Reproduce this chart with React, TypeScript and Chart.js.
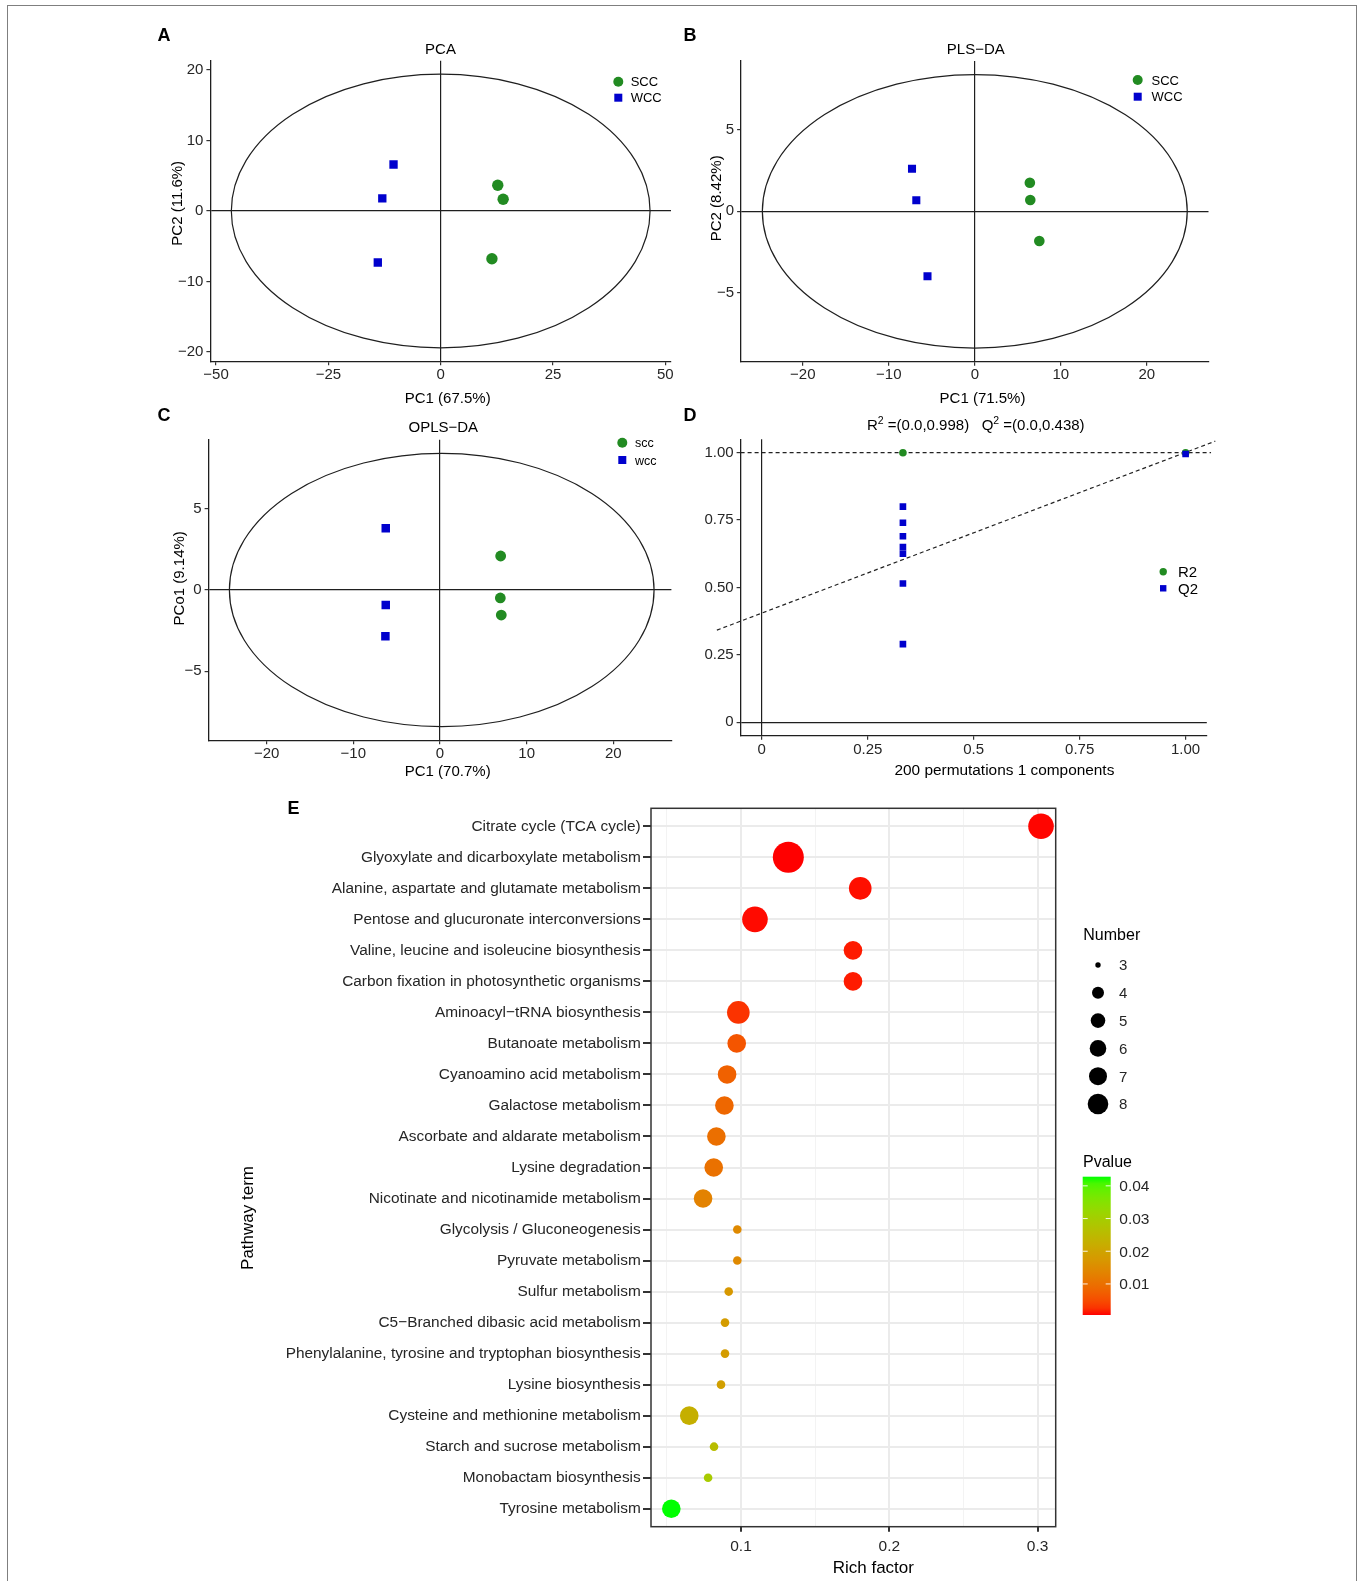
import React, { useEffect, useRef } from 'react';
import { Chart, registerables } from 'chart.js';

Chart.register(...registerables);

// ---------- shared look ----------
const FONT = '"Liberation Sans", Arial, Helvetica, sans-serif';
const INK = '#000000';
const TICK_INK = '#262626';
const AXIS_INK = '#1f1f1f';
const SCC_GREEN = '#228B22';
const WCC_BLUE = '#0000CD';

// ---------- A: PCA scores ----------
const PCA_SCC_X = [12.7, 13.9, 11.4];
const PCA_SCC_Y = [3.65, 1.66, -6.77];
const PCA_WCC_X = [-10.5, -13.0, -14.0];
const PCA_WCC_Y = [6.6, 1.8, -7.3];
const PCA_ELLIPSE = [0, 0, 46.6, 19.4]; // centre x, centre y, semi-axis x, semi-axis y
const PCA_X_TICKS = [-50, -25, 0, 25, 50];
const PCA_Y_TICKS = [-20, -10, 0, 10, 20];

// ---------- B: PLS-DA scores ----------
const PLSDA_SCC_X = [6.4, 6.45, 7.5];
const PLSDA_SCC_Y = [1.76, 0.7, -1.83];
const PLSDA_WCC_X = [-7.3, -6.8, -5.5];
const PLSDA_WCC_Y = [2.62, 0.68, -4.0];
const PLSDA_ELLIPSE = [0, 0, 24.7, 8.42];
const PLSDA_X_TICKS = [-20, -10, 0, 10, 20];
const PLSDA_Y_TICKS = [-5, 0, 5];

// ---------- C: OPLS-DA scores ----------
const OPLSDA_SCC_X = [7.0, 6.96, 7.07];
const OPLSDA_SCC_Y = [2.09, -0.49, -1.54];
const OPLSDA_WCC_X = [-6.26, -6.26, -6.3];
const OPLSDA_WCC_Y = [3.79, -0.92, -2.85];
const OPLSDA_ELLIPSE = [0.2, 0, 24.5, 8.4];
const OPLSDA_X_TICKS = [-20, -10, 0, 10, 20];
const OPLSDA_Y_TICKS = [-5, 0, 5];

// ---------- D: permutation test ----------
const PERM_R2_X = [1.0, 0.333];
const PERM_R2_Y = [1.0, 1.0];
const PERM_Q2_X = [0.333, 0.333, 0.333, 0.333, 0.333, 0.333, 0.333, 1.0];
const PERM_Q2_Y = [0.8, 0.74, 0.69, 0.65, 0.625, 0.515, 0.29, 0.995];
const R2_FIT = [1.0, 0.0]; // intercept, slope
const Q2_FIT = [0.405, 0.596];
const R2_FIT_SPAN = [-0.05, 1.06];
const Q2_FIT_SPAN = [-0.106, 1.07];
const PERM_X_TICKS = [0, 0.25, 0.5, 0.75, 1];
const PERM_X_LABELS = ['0', '0.25', '0.5', '0.75', '1.00'];
const PERM_Y_TICKS = [0, 0.25, 0.5, 0.75, 1];
const PERM_Y_LABELS = ['0', '0.25', '0.50', '0.75', '1.00'];

// ---------- E: KEGG enrichment ----------
const PATHWAYS = [
  'Citrate cycle (TCA cycle)',
  'Glyoxylate and dicarboxylate metabolism',
  'Alanine, aspartate and glutamate metabolism',
  'Pentose and glucuronate interconversions',
  'Valine, leucine and isoleucine biosynthesis',
  'Carbon fixation in photosynthetic organisms',
  'Aminoacyl\u2212tRNA biosynthesis',
  'Butanoate metabolism',
  'Cyanoamino acid metabolism',
  'Galactose metabolism',
  'Ascorbate and aldarate metabolism',
  'Lysine degradation',
  'Nicotinate and nicotinamide metabolism',
  'Glycolysis / Gluconeogenesis',
  'Pyruvate metabolism',
  'Sulfur metabolism',
  'C5\u2212Branched dibasic acid metabolism',
  'Phenylalanine, tyrosine and tryptophan biosynthesis',
  'Lysine biosynthesis',
  'Cysteine and methionine metabolism',
  'Starch and sucrose metabolism',
  'Monobactam biosynthesis',
  'Tyrosine metabolism',
];
const RICH_FACTOR = [
  0.3023, 0.1319, 0.1804, 0.1094, 0.1755, 0.1755, 0.0982, 0.0971, 0.0906, 0.0888, 0.0834, 0.0816,
  0.0744, 0.0975, 0.0975, 0.0917, 0.0892, 0.0892, 0.0865, 0.0651, 0.0818, 0.0778, 0.053,
];
const HIT_NUMBER = [6, 8, 5, 6, 4, 4, 5, 4, 4, 4, 4, 4, 4, 3, 3, 3, 3, 3, 3, 4, 3, 3, 4];
const P_VALUE = [
  0.0006, 0.0005, 0.0008, 0.0007, 0.0012, 0.0012, 0.0026, 0.006, 0.0077, 0.0085, 0.0098, 0.0102,
  0.0132, 0.0145, 0.0145, 0.0174, 0.0183, 0.0183, 0.0191, 0.0225, 0.0259, 0.0293, 0.0428,
];
const RICH_MAJOR_TICKS = [0.1, 0.2, 0.3];
const RICH_MINOR_TICKS = [0.05, 0.15, 0.25];
const NUMBER_BREAKS = [3, 4, 5, 6, 7, 8];
const PVALUE_BREAKS = [0.01, 0.02, 0.03, 0.04];
const PVALUE_LIMITS = [0.0005, 0.0428];

// marker sizes for the Number scale (plot and key)
const NUMBER_RADIUS = [4.3, 9.3, 11.3, 12.8, 14.2, 15.5];
const NUMBER_KEY_RADIUS = [2.7, 6.0, 7.3, 8.3, 9.0, 10.3];
const radiusFor = (n: number) => NUMBER_RADIUS[NUMBER_BREAKS.indexOf(n)];

// ---------- red -> green gradient interpolated in CIE Lab ----------
const WHITE = [0.95047, 1, 1.08883];
const toLinear = (c: number) => {
  const v = c / 255;
  return v <= 0.04045 ? v / 12.92 : Math.pow((v + 0.055) / 1.055, 2.4);
};
const fromLinear = (v: number) => {
  const s = v <= 0.0031308 ? 12.92 * v : 1.055 * Math.pow(Math.max(v, 0), 1 / 2.4) - 0.055;
  return Math.round(Math.min(1, Math.max(0, s)) * 255);
};
function rgbToLab(rgb: number[]) {
  const [r, g, b] = rgb.map(toLinear);
  const X = (0.4124 * r + 0.3576 * g + 0.1805 * b) / WHITE[0];
  const Y = (0.2126 * r + 0.7152 * g + 0.0722 * b) / WHITE[1];
  const Z = (0.0193 * r + 0.1192 * g + 0.9505 * b) / WHITE[2];
  const f = (t: number) => (t > 0.008856 ? Math.cbrt(t) : 7.787 * t + 16 / 116);
  const fx = f(X), fy = f(Y), fz = f(Z);
  return [116 * fy - 16, 500 * (fx - fy), 200 * (fy - fz)];
}
function labToRgb(lab: number[]) {
  const [L, a, b] = lab;
  const fy = (L + 16) / 116, fx = fy + a / 500, fz = fy - b / 200;
  const inv = (t: number) => (t * t * t > 0.008856 ? t * t * t : (t - 16 / 116) / 7.787);
  const X = inv(fx) * WHITE[0], Y = inv(fy) * WHITE[1], Z = inv(fz) * WHITE[2];
  return [
    fromLinear(3.2406 * X - 1.5372 * Y - 0.4986 * Z),
    fromLinear(-0.9689 * X + 1.8758 * Y + 0.0415 * Z),
    fromLinear(0.0557 * X - 0.204 * Y + 1.057 * Z),
  ];
}
const LAB_LOW = rgbToLab([255, 0, 0]);
const LAB_HIGH = rgbToLab([0, 255, 0]);
function colorAt(t: number) {
  const u = Math.min(1, Math.max(0, t));
  const [r, g, b] = labToRgb(LAB_LOW.map((v, i) => v + (LAB_HIGH[i] - v) * u));
  return `rgb(${r},${g},${b})`;
}
const pFraction = (p: number) => (p - PVALUE_LIMITS[0]) / (PVALUE_LIMITS[1] - PVALUE_LIMITS[0]);
const pColor = (p: number) => colorAt(pFraction(p));

// ---------- geometry helpers ----------
type Box = { left: number; top: number; width: number; height: number };
type Area = { left: number; top: number; right: number; bottom: number };

function frame(box: Box, area: Area) {
  return {
    padding: { left: 0, top: area.top - box.top, right: box.left + box.width - area.right, bottom: 0 },
    yWidth: area.left - box.left,
    xHeight: box.top + box.height - area.bottom,
  };
}

const signed = (v: number) => (v < 0 ? '\u2212' + Math.abs(v) : String(v));
const zip = (xs: number[], ys: number[]) => xs.map((x, i) => ({ x, y: ys[i] }));

function put(ctx: CanvasRenderingContext2D, s: string, x: number, y: number, o: any = {}) {
  ctx.save();
  ctx.font = `${o.bold ? 'bold ' : ''}${o.size ?? 15}px ${FONT}`;
  ctx.fillStyle = o.color ?? INK;
  ctx.textAlign = o.align ?? 'left';
  ctx.textBaseline = 'alphabetic';
  ctx.translate(x, y);
  if (o.rotate) ctx.rotate(-Math.PI / 2);
  ctx.fillText(s, 0, 0);
  ctx.restore();
}
function dot(ctx: CanvasRenderingContext2D, x: number, y: number, r: number, color: string) {
  ctx.beginPath();
  ctx.arc(x, y, r, 0, Math.PI * 2);
  ctx.fillStyle = color;
  ctx.fill();
}
function square(ctx: CanvasRenderingContext2D, x: number, y: number, side: number, color: string) {
  ctx.fillStyle = color;
  ctx.fillRect(x - side / 2, y - side / 2, side, side);
}

function overlayPlugin(box: Box, draw: (ctx: CanvasRenderingContext2D) => void) {
  return {
    id: 'panelText',
    afterDraw(chart: any) {
      const ctx = chart.ctx;
      ctx.save();
      ctx.translate(-box.left, -box.top);
      draw(ctx);
      ctx.restore();
    },
  };
}

function ellipsePlugin(e: number[]) {
  return {
    id: 'confidenceEllipse',
    beforeDatasetsDraw(chart: any) {
      const { ctx } = chart;
      const { x, y } = chart.scales;
      const cx = x.getPixelForValue(e[0]);
      const cy = y.getPixelForValue(e[1]);
      const rx = Math.abs(x.getPixelForValue(e[0] + e[2]) - cx);
      const ry = Math.abs(y.getPixelForValue(e[1] + e[3]) - cy);
      ctx.save();
      ctx.beginPath();
      ctx.ellipse(cx, cy, rx, ry, 0, 0, Math.PI * 2);
      ctx.strokeStyle = AXIS_INK;
      ctx.lineWidth = 1.2;
      ctx.stroke();
      ctx.restore();
    },
  };
}

// theme_classic-like axis: axis line, tick marks, and a reference line at zero
function classicAxis(min: number, max: number, ticks: number[], labels: string[], fit: (s: any) => void, pad: number) {
  return {
    type: 'linear',
    min,
    max,
    afterBuildTicks: (s: any) => {
      s.ticks = ticks.map((v) => ({ value: v }));
    },
    afterFit: fit,
    grid: {
      drawOnChartArea: true,
      color: (c: any) => (c.tick && c.tick.value === 0 ? AXIS_INK : 'rgba(0,0,0,0)'),
      lineWidth: 1.2,
      tickColor: '#333333',
      tickLength: 4,
      tickWidth: 1.2,
    },
    border: { display: true, color: AXIS_INK, width: 1.3 },
    ticks: {
      color: TICK_INK,
      font: { family: FONT, size: 15 },
      padding: pad,
      autoSkip: false,
      maxRotation: 0,
      minRotation: 0,
      callback: (v: number) => {
        const i = ticks.indexOf(v);
        return i >= 0 ? labels[i] : '';
      },
    },
  };
}

function baseOptions(padding: any) {
  return {
    responsive: false,
    animation: false,
    events: [],
    devicePixelRatio: 1,
    layout: { autoPadding: false, padding },
    plugins: { legend: { display: false }, tooltip: { enabled: false }, title: { display: false } },
  };
}

// ---------- score panels A, B, C ----------
type ScorePanel = {
  box: Box;
  area: Area;
  xRange: number[];
  yRange: number[];
  xTicks: number[];
  yTicks: number[];
  sccX: number[];
  sccY: number[];
  wccX: number[];
  wccY: number[];
  ellipse: number[];
  dotR: number;
  rectR: number;
  xPad: number;
  decorate: (ctx: CanvasRenderingContext2D) => void;
};

function scoreConfig(p: ScorePanel) {
  const f = frame(p.box, p.area);
  return {
    type: 'scatter',
    data: {
      datasets: [
        {
          label: 'SCC',
          data: zip(p.sccX, p.sccY),
          pointStyle: 'circle',
          pointRadius: p.dotR,
          backgroundColor: SCC_GREEN,
          borderWidth: 0,
        },
        {
          label: 'WCC',
          data: zip(p.wccX, p.wccY),
          pointStyle: 'rect',
          pointRadius: p.rectR,
          backgroundColor: WCC_BLUE,
          borderWidth: 0,
        },
      ],
    },
    options: {
      ...baseOptions(f.padding),
      scales: {
        x: classicAxis(p.xRange[0], p.xRange[1], p.xTicks, p.xTicks.map(signed), (s: any) => { s.height = f.xHeight; }, p.xPad),
        y: classicAxis(p.yRange[0], p.yRange[1], p.yTicks, p.yTicks.map(signed), (s: any) => { s.width = f.yWidth; }, 3),
      },
    },
    plugins: [ellipsePlugin(p.ellipse), overlayPlugin(p.box, p.decorate)],
  };
}

function groupKey(ctx: CanvasRenderingContext2D, x: number, y1: number, y2: number, tx: number, size: number, names: string[], dotR: number, side: number) {
  dot(ctx, x, y1, dotR, SCC_GREEN);
  square(ctx, x, y2, side, WCC_BLUE);
  put(ctx, names[0], tx, y1 + size * 0.36, { size });
  put(ctx, names[1], tx, y2 + size * 0.36, { size });
}

const PANEL_A: ScorePanel = {
  box: { left: 140, top: 20, width: 540, height: 390 },
  area: { left: 210.4, top: 60.8, right: 671, bottom: 361.2 },
  xRange: [-51.26, 51.26],
  yRange: [-21.3, 21.3],
  xTicks: PCA_X_TICKS,
  yTicks: PCA_Y_TICKS,
  sccX: PCA_SCC_X,
  sccY: PCA_SCC_Y,
  wccX: PCA_WCC_X,
  wccY: PCA_WCC_Y,
  ellipse: PCA_ELLIPSE,
  dotR: 5.7,
  rectR: 5.9,
  xPad: 0.5,
  decorate: (ctx) => {
    put(ctx, 'A', 157.5, 40.5, { size: 18, bold: true });
    put(ctx, 'PCA', 440.5, 54, { align: 'center' });
    put(ctx, 'PC1 (67.5%)', 447.7, 403.3, { align: 'center' });
    put(ctx, 'PC2 (11.6%)', 182.3, 203.3, { align: 'center', rotate: true });
    groupKey(ctx, 618.3, 81.7, 97.7, 630.7, 13, ['SCC', 'WCC'], 5, 8);
  },
};

const PANEL_B: ScorePanel = {
  box: { left: 670, top: 20, width: 550, height: 390 },
  area: { left: 741.1, top: 60.9, right: 1208.5, bottom: 361.7 },
  xRange: [-27.17, 27.17],
  yRange: [-9.26, 9.26],
  xTicks: PLSDA_X_TICKS,
  yTicks: PLSDA_Y_TICKS,
  sccX: PLSDA_SCC_X,
  sccY: PLSDA_SCC_Y,
  wccX: PLSDA_WCC_X,
  wccY: PLSDA_WCC_Y,
  ellipse: PLSDA_ELLIPSE,
  dotR: 5.3,
  rectR: 5.7,
  xPad: 0.5,
  decorate: (ctx) => {
    put(ctx, 'B', 683.5, 40.5, { size: 18, bold: true });
    put(ctx, 'PLS\u2212DA', 975.8, 54, { align: 'center' });
    put(ctx, 'PC1 (71.5%)', 982.5, 403.3, { align: 'center' });
    put(ctx, 'PC2 (8.42%)', 721, 198.3, { align: 'center', rotate: true });
    groupKey(ctx, 1137.7, 80, 96.7, 1151.5, 13, ['SCC', 'WCC'], 5, 8);
  },
};

const PANEL_C: ScorePanel = {
  box: { left: 140, top: 400, width: 540, height: 385 },
  area: { left: 208.6, top: 439.7, right: 671.4, bottom: 740.3 },
  xRange: [-26.7, 26.7],
  yRange: [-9.24, 9.24],
  xTicks: OPLSDA_X_TICKS,
  yTicks: OPLSDA_Y_TICKS,
  sccX: OPLSDA_SCC_X,
  sccY: OPLSDA_SCC_Y,
  wccX: OPLSDA_WCC_X,
  wccY: OPLSDA_WCC_Y,
  ellipse: OPLSDA_ELLIPSE,
  dotR: 5.4,
  rectR: 6.0,
  xPad: 1,
  decorate: (ctx) => {
    put(ctx, 'C', 157.5, 420.5, { size: 18, bold: true });
    put(ctx, 'OPLS\u2212DA', 443.3, 432.3, { align: 'center' });
    put(ctx, 'PC1 (70.7%)', 447.7, 776, { align: 'center' });
    put(ctx, 'PCo1 (9.14%)', 184, 578.3, { align: 'center', rotate: true });
    groupKey(ctx, 622.3, 442.7, 460, 635, 12.5, ['scc', 'wcc'], 5, 8);
  },
};

// ---------- panel D ----------
const D_BOX: Box = { left: 670, top: 400, width: 550, height: 385 };
const D_AREA: Area = { left: 740.6, top: 439.2, right: 1206.8, bottom: 735.8 };

function fitLine(fit: number[], span: number[]) {
  return span.map((x) => ({ x, y: fit[0] + fit[1] * x }));
}

function permTitle(ctx: CanvasRenderingContext2D, cx: number, baseline: number) {
  const big = `15px ${FONT}`;
  const small = `10.5px ${FONT}`;
  const parts: [string, string, number][] = [
    ['R', big, 0],
    ['2', small, -6],
    [' =(0.0,0.998)   Q', big, 0],
    ['2', small, -6],
    [' =(0.0,0.438)', big, 0],
  ];
  ctx.save();
  ctx.textBaseline = 'alphabetic';
  ctx.textAlign = 'left';
  ctx.fillStyle = INK;
  let total = 0;
  for (const [s, f] of parts) {
    ctx.font = f;
    total += ctx.measureText(s).width;
  }
  let x = cx - total / 2;
  for (const [s, f, dy] of parts) {
    ctx.font = f;
    ctx.fillText(s, x, baseline + dy);
    x += ctx.measureText(s).width;
  }
  ctx.restore();
}

function permConfig() {
  const f = frame(D_BOX, D_AREA);
  const dashed = {
    showLine: true,
    pointRadius: 0,
    borderColor: '#222222',
    borderWidth: 1.2,
    borderDash: [4, 3],
    fill: false,
    clip: false,
    order: 2,
  };
  return {
    type: 'scatter',
    data: {
      datasets: [
        {
          label: 'Q2',
          data: zip(PERM_Q2_X, PERM_Q2_Y),
          pointStyle: 'rect',
          pointRadius: 4.7,
          backgroundColor: WCC_BLUE,
          borderWidth: 0,
          order: 1,
        },
        {
          label: 'R2',
          data: zip(PERM_R2_X, PERM_R2_Y),
          pointStyle: 'circle',
          pointRadius: 3.8,
          backgroundColor: SCC_GREEN,
          borderWidth: 0,
          order: 1,
        },
        { label: 'R2 fit', data: fitLine(R2_FIT, R2_FIT_SPAN), ...dashed },
        { label: 'Q2 fit', data: fitLine(Q2_FIT, Q2_FIT_SPAN), ...dashed },
      ],
    },
    options: {
      ...baseOptions(f.padding),
      scales: {
        x: classicAxis(-0.05, 1.05, PERM_X_TICKS, PERM_X_LABELS, (s: any) => { s.height = f.xHeight; }, 1),
        y: classicAxis(-0.05, 1.05, PERM_Y_TICKS, PERM_Y_LABELS, (s: any) => { s.width = f.yWidth; }, 3),
      },
    },
    plugins: [
      overlayPlugin(D_BOX, (ctx) => {
        put(ctx, 'D', 683.5, 420.5, { size: 18, bold: true });
        permTitle(ctx, 975.8, 430);
        put(ctx, '200 permutations 1 components', 1004.4, 775, { size: 15.4, align: 'center' });
        dot(ctx, 1163.2, 571.7, 3.7, SCC_GREEN);
        square(ctx, 1163.2, 588.3, 6.4, WCC_BLUE);
        put(ctx, 'R2', 1178, 571.7 + 5.4, { size: 15 });
        put(ctx, 'Q2', 1178, 588.3 + 5.4, { size: 15 });
      }),
    ],
  };
}

// ---------- panel E ----------
const E_BOX: Box = { left: 220, top: 785, width: 980, height: 796 };
const E_AREA: Area = { left: 651, top: 808.3, right: 1055.7, bottom: 1526.7 };
const near = (a: number, list: number[]) => list.some((b) => Math.abs(a - b) < 1e-9);

function enrichConfig() {
  const f = frame(E_BOX, E_AREA);
  const gridTicks = [...RICH_MINOR_TICKS, ...RICH_MAJOR_TICKS].sort((a, b) => a - b);
  return {
    type: 'bubble',
    data: {
      datasets: [
        {
          label: 'Pathway',
          data: RICH_FACTOR.map((x, i) => ({ x, y: i, r: radiusFor(HIT_NUMBER[i]) })),
          backgroundColor: P_VALUE.map(pColor),
          borderWidth: 0,
        },
      ],
    },
    options: {
      ...baseOptions(f.padding),
      scales: {
        x: {
          type: 'linear',
          min: 0.0393,
          max: 0.3122,
          afterBuildTicks: (s: any) => {
            s.ticks = gridTicks.map((v) => ({ value: v }));
          },
          afterFit: (s: any) => {
            s.height = f.xHeight;
          },
          grid: {
            color: (c: any) => (c.tick && near(c.tick.value, RICH_MAJOR_TICKS) ? '#EBEBEB' : '#F3F3F3'),
            lineWidth: (c: any) => (c.tick && near(c.tick.value, RICH_MAJOR_TICKS) ? 2 : 1),
            tickColor: (c: any) => (c.tick && near(c.tick.value, RICH_MAJOR_TICKS) ? '#333333' : 'rgba(0,0,0,0)'),
            tickLength: 5,
            tickWidth: 2,
          },
          border: { display: false },
          ticks: {
            color: TICK_INK,
            font: { family: FONT, size: 15.5 },
            padding: 5.5,
            autoSkip: false,
            maxRotation: 0,
            minRotation: 0,
            callback: (v: number) => (near(v, RICH_MAJOR_TICKS) ? String(Math.round(v * 10) / 10) : ''),
          },
        },
        y: {
          type: 'linear',
          reverse: true,
          min: -0.58,
          max: 22.58,
          afterBuildTicks: (s: any) => {
            s.ticks = PATHWAYS.map((_, i) => ({ value: i }));
          },
          afterFit: (s: any) => {
            s.width = f.yWidth;
          },
          grid: { color: '#EBEBEB', lineWidth: 2, tickColor: '#333333', tickLength: 8, tickWidth: 2 },
          border: { display: false },
          ticks: {
            color: TICK_INK,
            font: { family: FONT, size: 15.4 },
            padding: 2.3,
            autoSkip: false,
            callback: (v: number) => PATHWAYS[v] ?? '',
          },
        },
      },
    },
    plugins: [
      {
        id: 'panelBorder',
        afterDatasetsDraw(chart: any) {
          const { ctx, chartArea: a } = chart;
          ctx.save();
          ctx.strokeStyle = '#333333';
          ctx.lineWidth = 1.5;
          ctx.strokeRect(a.left, a.top, a.right - a.left, a.bottom - a.top);
          ctx.restore();
        },
      },
      overlayPlugin(E_BOX, (ctx) => {
        put(ctx, 'E', 287.5, 813.5, { size: 18, bold: true });
        put(ctx, 'Rich factor', 873.3, 1573, { size: 17, align: 'center' });
        put(ctx, 'Pathway term', 253.3, 1218, { size: 17, align: 'center', rotate: true });

        // size key
        put(ctx, 'Number', 1083.3, 939.5, { size: 16 });
        NUMBER_BREAKS.forEach((n, i) => {
          const y = 965 + i * 27.8;
          dot(ctx, 1098, y, NUMBER_KEY_RADIUS[i], '#000000');
          put(ctx, String(n), 1119, y + 5.4, { size: 15, color: TICK_INK });
        });

        // colour bar
        put(ctx, 'Pvalue', 1083, 1166.7, { size: 16 });
        const barL = 1082.7, barW = 28, barT = 1176.7, barB = 1315;
        const grad = ctx.createLinearGradient(0, barB, 0, barT);
        for (let k = 0; k <= 20; k++) grad.addColorStop(k / 20, colorAt(k / 20));
        ctx.fillStyle = grad;
        ctx.fillRect(barL, barT, barW, barB - barT);
        PVALUE_BREAKS.forEach((p) => {
          const y = barB - pFraction(p) * (barB - barT);
          ctx.strokeStyle = 'rgba(255,255,255,0.9)';
          ctx.lineWidth = 1;
          ctx.beginPath();
          ctx.moveTo(barL, y);
          ctx.lineTo(barL + 5, y);
          ctx.moveTo(barL + barW - 5, y);
          ctx.lineTo(barL + barW, y);
          ctx.stroke();
          put(ctx, p.toFixed(2), 1119.3, y + 5.4, { size: 15.5, color: TICK_INK });
        });
      }),
    ],
  };
}

// ---------- React ----------
function ChartCanvas({ box, build }: { box: Box; build: () => any }) {
  const ref = useRef<HTMLCanvasElement>(null);
  useEffect(() => {
    if (!ref.current) return;
    const chart = new Chart(ref.current, build());
    return () => chart.destroy();
  }, []);
  return (
    <canvas
      ref={ref}
      width={box.width}
      height={box.height}
      style={{ position: 'absolute', left: box.left, top: box.top, width: box.width, height: box.height }}
    />
  );
}

export default function App() {
  Chart.defaults.font.family = FONT;
  return (
    <div style={{ position: 'absolute', left: 0, top: 0, width: 1362, height: 1581, background: '#ffffff', overflow: 'hidden' }}>
      <div
        style={{
          position: 'absolute',
          left: 7,
          top: 5,
          width: 1350,
          height: 1620,
          border: '1.5px solid #7f7f7f',
          boxSizing: 'border-box',
        }}
      />
      <ChartCanvas box={PANEL_A.box} build={() => scoreConfig(PANEL_A)} />
      <ChartCanvas box={PANEL_B.box} build={() => scoreConfig(PANEL_B)} />
      <ChartCanvas box={PANEL_C.box} build={() => scoreConfig(PANEL_C)} />
      <ChartCanvas box={D_BOX} build={permConfig} />
      <ChartCanvas box={E_BOX} build={enrichConfig} />
    </div>
  );
}
